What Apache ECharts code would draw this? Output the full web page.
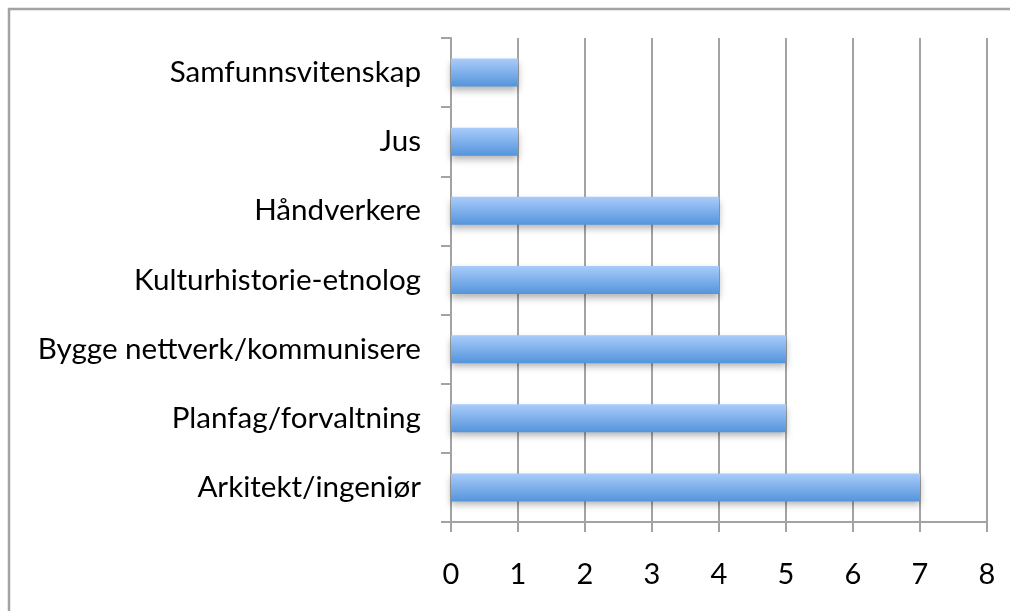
<!DOCTYPE html>
<html><head><meta charset="utf-8">
<script src="https://cdn.jsdelivr.net/npm/echarts@6/dist/echarts.min.js"></script>
<style>html,body{margin:0;padding:0;background:#fff}#c{width:1010px;height:611px}</style>
</head><body><div id="c"></div>
<script>
const categories = ['Arkitekt/ingeniør','Planfag/forvaltning','Bygge nettverk/kommunisere','Kulturhistorie-etnolog','Håndverkere','Jus','Samfunnsvitenskap'];
const values = [7,5,5,4,4,1,1];
const xTicks = [0,1,2,3,4,5,6,7,8];

const chart = echarts.init(document.getElementById('c'), null, {renderer:'canvas'});
const fontFam = 'Lato, "Open Sans", sans-serif';
chart.setOption({
  animation:false,
  graphic:[{type:'rect', shape:{x:9,y:9,width:1010,height:620}, style:{fill:'none', stroke:'#a3a3a3', lineWidth:2.5}, silent:true}],
  grid:{left:451, right:23, top:38, bottom:89, containLabel:false},
  xAxis:{type:'value', min:xTicks[0], max:xTicks[xTicks.length-1], interval:1,
    axisLine:{show:true, lineStyle:{color:'#a3a3a3', width:2}},
    axisTick:{show:true, length:10, lineStyle:{color:'#a3a3a3', width:2}},
    splitLine:{show:true, lineStyle:{color:'#a3a3a3', width:2}},
    axisLabel:{margin:38, color:'#000', fontSize:29, fontFamily:fontFam}},
  yAxis:{type:'category', data:categories,
    axisLine:{show:true, lineStyle:{color:'#a3a3a3', width:2}},
    axisTick:{show:true, length:10, lineStyle:{color:'#a3a3a3', width:2}},
    axisLabel:{margin:30, color:'#000', fontSize:29.6, fontFamily:fontFam}},
  series:[{type:'bar', data:values, barWidth:28,
    itemStyle:{color:new echarts.graphic.LinearGradient(0,0,0,1,[{offset:0,color:'#a9ccfa'},{offset:1,color:'#5494dc'}]),
      shadowColor:'rgba(0,0,0,0.3)', shadowBlur:7, shadowOffsetY:4}}]
});
</script></body></html>
